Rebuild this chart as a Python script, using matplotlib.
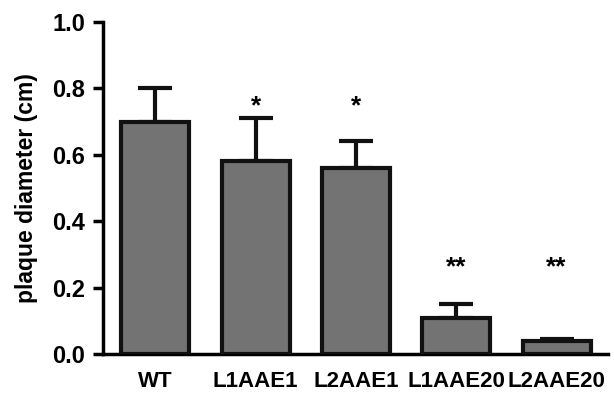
import matplotlib
matplotlib.use('Agg')
import matplotlib.pyplot as plt

groups = ['WT', 'L1AAE1', 'L2AAE1', 'L1AAE20', 'L2AAE20']
diameter = [0.70, 0.58, 0.56, 0.11, 0.04]
err_up = [0.10, 0.13, 0.08, 0.04, 0.005]
stars = ['', '*', '*', '**', '**']
star_y = [0, 0.71, 0.71, 0.225, 0.225]

plt.rcParams['font.family'] = ['Liberation Sans', 'DejaVu Sans']
plt.rcParams['font.weight'] = 'bold'

fig = plt.figure(figsize=(6.14, 3.97), dpi=100)
ax = fig.add_axes([0.168, 0.108, 0.822, 0.837])

x = range(len(groups))
ax.bar(x, diameter, width=0.68, color='#737373', edgecolor='#111111', linewidth=3, zorder=3)
ax.errorbar(x, diameter, yerr=[[0] * len(err_up), err_up], fmt='none', ecolor='#111111',
            elinewidth=3, capsize=12, capthick=3, zorder=2)

for i, s in enumerate(stars):
    if s:
        ax.text(i, star_y[i], s, ha='center', va='bottom', fontsize=19, fontweight='bold')

ax.set_xlim(-0.52, 4.51)
ax.set_ylim(0, 1.0)
ax.set_yticks([0.0, 0.2, 0.4, 0.6, 0.8, 1.0])
ax.set_yticklabels(['0.0', '0.2', '0.4', '0.6', '0.8', '1.0'])
ax.set_xticks(list(x))
ax.set_xticklabels(groups)
ax.set_ylabel('plaque diameter (cm)', fontsize=16.5, fontweight='bold')
ax.yaxis.set_label_coords(-0.13, 0.5)

ax.spines['top'].set_visible(False)
ax.spines['right'].set_visible(False)
ax.spines['left'].set_linewidth(2.5)
ax.spines['bottom'].set_linewidth(2.5)
ax.tick_params(axis='y', length=7, width=2.5, labelsize=17, pad=6)
ax.tick_params(axis='x', length=0, labelsize=16, pad=12)

plt.savefig('out.png', dpi=100)
